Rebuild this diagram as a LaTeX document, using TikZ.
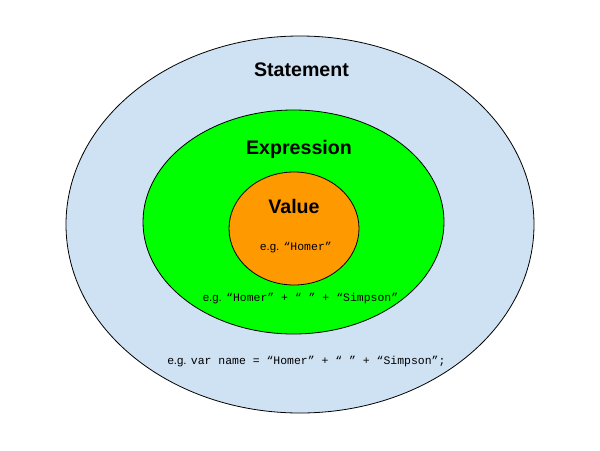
\documentclass[tikz,border=0pt]{standalone}
\usepackage{fontspec}
\setmainfont{Liberation Sans}
\newfontfamily\codefont{Liberation Mono}
\usetikzlibrary{shapes.geometric}

\definecolor{hellblau}{HTML}{CFE2F3}
\definecolor{gruen}{HTML}{00FF00}
\definecolor{orange}{HTML}{FF9900}

\tikzset{
    menge/.style={ellipse, draw=black, line width=0.6pt, inner sep=0pt},
    titel/.style={anchor=base, font=\fontsize{14.7}{16}\selectfont\bfseries},
    beispiel/.style={anchor=base, font=\fontsize{8.6}{10}\selectfont}
}

\begin{document}
\begin{tikzpicture}[x=0.75pt, y=-0.75pt]
        \useasboundingbox (0,0) rectangle (600,450);

        % Mengen
        \node[menge, fill=hellblau, minimum width=351pt, minimum height=282.75pt] (statement) at (300,224.5) {};
        \node[menge, fill=gruen, minimum width=225.75pt, minimum height=168pt] (expression) at (293.5,222) {};
        \node[menge, fill=orange, minimum width=97.5pt, minimum height=84.75pt] (value) at (294,228.5) {};

        % Beschriftung
        \node[titel] (statementtitel) at (301.5,76) {Statement};
        \node[titel] (expressiontitel) at (299,154) {Expression};
        \node[titel] (valuetitel) at (294,213) {Value};

        % Beispiele
        \node[beispiel] (valuebsp) at (296,250) {e.g. {\codefont “Homer”}};
        \node[beispiel] (expressionbsp) at (300.5,301) {e.g. {\codefont “Homer” + “ ” + “Simpson”}};
        \node[beispiel] (statementbsp) at (306.5,364) {e.g. {\codefont var name = “Homer” + “ ” + “Simpson”;}};
    \end{tikzpicture}
\end{document}
